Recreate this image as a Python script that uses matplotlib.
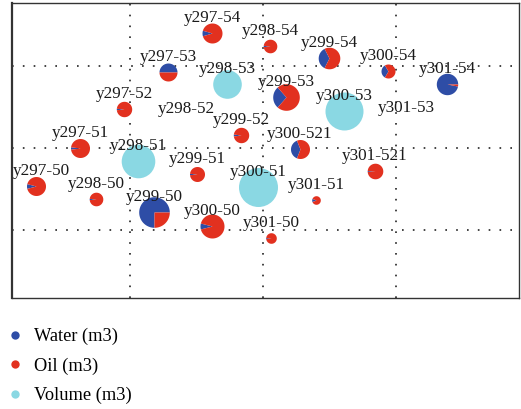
import numpy as np
import matplotlib
matplotlib.use("Agg")
import matplotlib.pyplot as plt
from matplotlib.path import Path
from matplotlib.lines import Line2D

plt.rcParams['font.family'] = ['Liberation Serif', 'DejaVu Serif']

# ---------------- data ----------------
wells = ["y297-54", "y298-54", "y299-54", "y300-54", "y301-54",
         "y297-53", "y298-53", "y299-53", "y300-53", "y301-53",
         "y297-52", "y298-52", "y299-52", "y300-521", "y301-521",
         "y297-51", "y298-51", "y299-51", "y300-51", "y301-51",
         "y297-50", "y298-50", "y299-50", "y300-50", "y301-50"]
x_loc = [212, 270, 329, 388, 447,
         168, 227, 286, 344, 406,
         124, 186, 241, 300, 375,
         80, 138, 197, 258, 316,
         36, 96, 154, 212, 271]
y_loc = [376, 363, 351, 338, 325,
         337, 325, 312, 298, 286,
         300, 285, 274, 260, 238,
         261, 248, 235, 222, 209,
         223, 210, 197, 183, 171]
water = [180, 28, 817, 323, 2221,
         810, 0, 955, 0, 0,
         36, 0, 47, 686, 24,
         72, 0, 34, 0, 44,
         144, 28, 3511, 230, 17]
oil = [1820, 897, 1516, 657, 69,
       810, 0, 2583, 0, 0,
       1150, 0, 1139, 1119, 1193,
       1733, 0, 1091, 0, 326,
       1661, 897, 1171, 2650, 545]
volume = [0, 0, 0, 0, 0,
          0, 4090, 0, 7220, 0,
          0, 0, 0, 0, 0,
          0, 5645, 0, 7605, 0,
          0, 0, 0, 0, 0]
x_grid = [130, 263, 396]
y_grid = [179, 261, 343]
series_labels = ["Water (m3)", "Oil (m3)", "Volume (m3)"]

C_WATER = "#2e4da6"
C_OIL = "#e2311f"
C_VOL = "#8ad8e3"

DPI = 100
PX2PT = 72.0 / DPI


def wedge_marker(a0, a1):
    t = np.radians(np.linspace(a0, a1, max(3, int(abs(a1 - a0) / 2) + 2)))
    verts = [(-1, -1), (1, 1), (0, 0)] + list(zip(np.cos(t), np.sin(t))) + [(0, 0)]
    codes = [Path.MOVETO, Path.MOVETO, Path.MOVETO] + [Path.LINETO] * len(t) + [Path.CLOSEPOLY]
    return Path(verts, codes)


def radius_px(total):
    return np.sqrt(total / 20.0)


fig = plt.figure(figsize=(5.21, 4.09), dpi=DPI)
ax = fig.add_axes([12 / 521, 1 - 298 / 409, 507 / 521, 295 / 409])
ax.set_xlim(12, 519)
ax.set_ylim(111, 406)

for xv in x_grid:
    ax.axvline(xv, color="#222222", lw=1.2, ls=(0, (1, 5.5)), zorder=0)
for yv in y_grid:
    ax.axhline(yv, color="#222222", lw=1.2, ls=(0, (1, 5.5)), zorder=0)

for name, xv, yv, w, o, v in zip(wells, x_loc, y_loc, water, oil, volume):
    tot = w + o
    if tot > 0:
        f = w / tot
        ms = 2 * radius_px(tot) * PX2PT
        if f >= 0.5:
            a0 = 0.0
            a1 = 360.0 * f
        else:
            a0 = 180.0 - 180.0 * f
            a1 = 180.0 + 180.0 * f
        if f > 0:
            ax.scatter([xv], [yv], s=ms ** 2, marker=wedge_marker(a0, a1),
                       color=C_WATER, linewidths=0, zorder=3)
        if f < 1:
            ax.scatter([xv], [yv], s=ms ** 2, marker=wedge_marker(a1, a0 + 360.0),
                       color=C_OIL, linewidths=0, zorder=3)
    if v > 0:
        ms = 2 * radius_px(v) * PX2PT
        ax.scatter([xv], [yv], s=ms ** 2, marker="o", color=C_VOL,
                   linewidths=0, zorder=2)
    ax.annotate(name, (xv, yv), xytext=(0, 15 * PX2PT), textcoords="offset points",
                ha="center", va="center", fontsize=12.3, color="#1a1a1a", zorder=4)

ax.set_xticks([])
ax.set_yticks([])
for side, sp in ax.spines.items():
    sp.set_color("#333333")
    sp.set_linewidth(1.0)
ax.spines["left"].set_linewidth(1.6)

# keep labels inside the frame
fig.canvas.draw()
renderer = fig.canvas.get_renderer()
axbb = ax.get_window_extent(renderer)
for t in ax.texts:
    bb = t.get_window_extent(renderer)
    if bb.x0 < axbb.x0 + 1:
        shift = (axbb.x0 + 1 - bb.x0) * PX2PT
        ox, oy = t.xyann
        t.xyann = (ox + shift, oy)

handles = [Line2D([], [], ls="none", marker="o", ms=6.0, mfc=c, mec="none")
           for c in (C_WATER, C_OIL, C_VOL)]
fig.legend(handles, series_labels, loc="upper left",
           bbox_to_anchor=(8 / 521, 1 - 328 / 409), frameon=False,
           fontsize=13.2, handlelength=0.8, handletextpad=0.62,
           labelspacing=0.66, borderpad=0, borderaxespad=0)

fig.savefig("out.png", dpi=DPI)
